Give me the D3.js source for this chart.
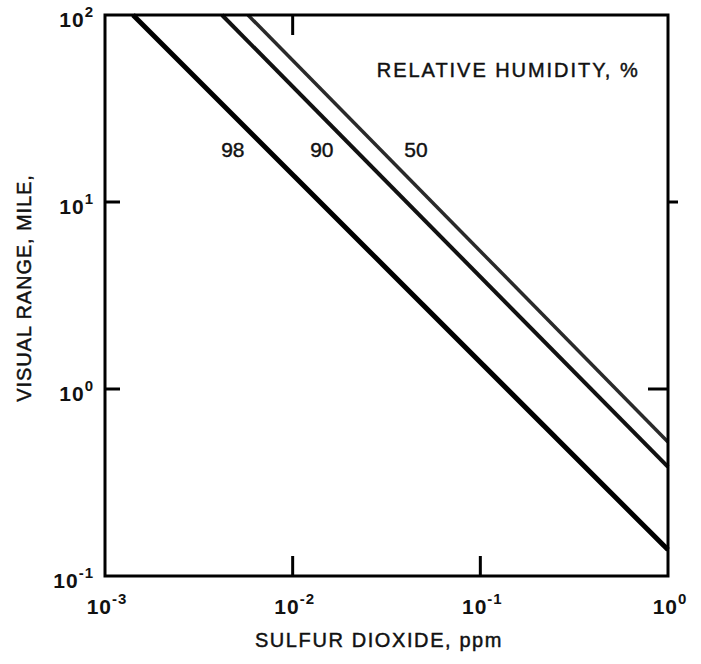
<!DOCTYPE html>
<html>
<head>
<meta charset="utf-8">
<script src="https://cdn.jsdelivr.net/npm/d3@7"></script>
<style>
  body { margin: 0; background: #fff; }
  svg { display: block; font-family: "Liberation Sans", Arial, sans-serif; }
  .tick-label { font-size: 21px; font-weight: bold; fill: #111; letter-spacing: 1px; }
  .axis-title { font-size: 20px; fill: #111; stroke: #111; stroke-width: 0.45px; letter-spacing: 1.3px; }
  .curve-label { font-size: 21px; fill: #111; stroke: #111; stroke-width: 0.4px; }
</style>
</head>
<body>
<div id="chart"></div>
<script>
// relative humidity curves (endpoints on log-log, straight lines)
const RH_LABELS = ["98", "90", "50"];
const SO2_START = [1.41e-3, 4.2e-3, 5.78e-3];   // ppm where each line leaves the top
const SO2_END = [1, 1, 1];
const RANGE_START = [100, 100, 100];            // mile
const RANGE_END = [0.138, 0.383, 0.521];
const LABEL_X = [4.8e-3, 0.0143, 0.0454];
const LABEL_Y = 19;

const X_TICKS = [1e-3, 1e-2, 1e-1, 1];
const X_TICK_EXP = ["-3", "-2", "-1", "0"];
const Y_TICKS = [0.1, 1, 10, 100];
const Y_TICK_EXP = ["-1", "0", "1", "2"];

const W = 701, H = 664;
const M = { top: 15, right: 33, bottom: 88, left: 105 };
const iW = W - M.left - M.right;
const iH = H - M.top - M.bottom;

const svg = d3.select("#chart").append("svg")
  .attr("width", W).attr("height", H)
  .attr("viewBox", `0 0 ${W} ${H}`);

const g = svg.append("g").attr("transform", `translate(${M.left},${M.top})`);

const x = d3.scaleLog().domain([1e-3, 1]).range([0, iW]);
const y = d3.scaleLog().domain([0.1, 100]).range([iH, 0]);

// curves
const lineGen = d3.line().x(d => x(d[0])).y(d => y(d[1]));
const widths = [5, 4, 3.5];
const colors = ["#000", "#111", "#2a2a2a"];
RH_LABELS.forEach((lab, i) => {
  g.append("path")
    .datum([[SO2_START[i], RANGE_START[i]], [SO2_END[i], RANGE_END[i]]])
    .attr("d", lineGen)
    .attr("fill", "none")
    .attr("stroke", colors[i])
    .attr("stroke-width", widths[i]);
  g.append("text").attr("class", "curve-label")
    .attr("x", x(LABEL_X[i])).attr("y", y(LABEL_Y))
    .attr("text-anchor", "middle").attr("dy", "0.36em")
    .text(lab);
});

g.append("text").attr("class", "axis-title")
  .attr("x", x(0.0281)).attr("y", y(46.6))
  .style("letter-spacing", "1.95px")
  .text("RELATIVE HUMIDITY, %");

// frame
g.append("rect")
  .attr("width", iW).attr("height", iH)
  .attr("fill", "none").attr("stroke", "#000").attr("stroke-width", 3);

// inner ticks, only where the scan shows them
const tick = (x1, y1, x2, y2) => g.append("line")
  .attr("x1", x1).attr("y1", y1).attr("x2", x2).attr("y2", y2)
  .attr("stroke", "#000").attr("stroke-width", 3);
[1e-2, 1e-1].forEach(v => tick(x(v), iH, x(v), iH - 20));
tick(x(1e-2), 0, x(1e-2), 20);
[1, 10].forEach(v => tick(0, y(v), 15, y(v)));
tick(iW, y(1), iW - 20, y(1));
tick(iW, y(10), iW + 10, y(10));

// tick labels
const xl = g.append("g");
X_TICKS.forEach((v, i) => {
  const t = xl.append("text").attr("class", "tick-label")
    .attr("x", x(v) + 2).attr("y", iH + 38).attr("text-anchor", "middle");
  t.append("tspan").text("10");
  t.append("tspan").attr("dy", -10).attr("font-size", 15).text(X_TICK_EXP[i]);
});
const yl = g.append("g");
Y_TICKS.forEach((v, i) => {
  const t = yl.append("text").attr("class", "tick-label")
    .attr("x", -11).attr("y", y(v) + 12).attr("text-anchor", "end");
  t.append("tspan").text("10");
  t.append("tspan").attr("dy", -10).attr("font-size", 15).text(Y_TICK_EXP[i]);
});

// axis titles
svg.append("text").attr("class", "axis-title")
  .attr("x", (255 + 503) / 2).attr("y", 647)
  .attr("text-anchor", "middle")
  .style("letter-spacing", "1.6px")
  .text("SULFUR DIOXIDE, ppm");

svg.append("text").attr("class", "axis-title")
  .attr("transform", "translate(31,288) rotate(-90)")
  .attr("text-anchor", "middle")
  .style("letter-spacing", "0.9px")
  .text("VISUAL RANGE, MILE,");
</script>
</body>
</html>
